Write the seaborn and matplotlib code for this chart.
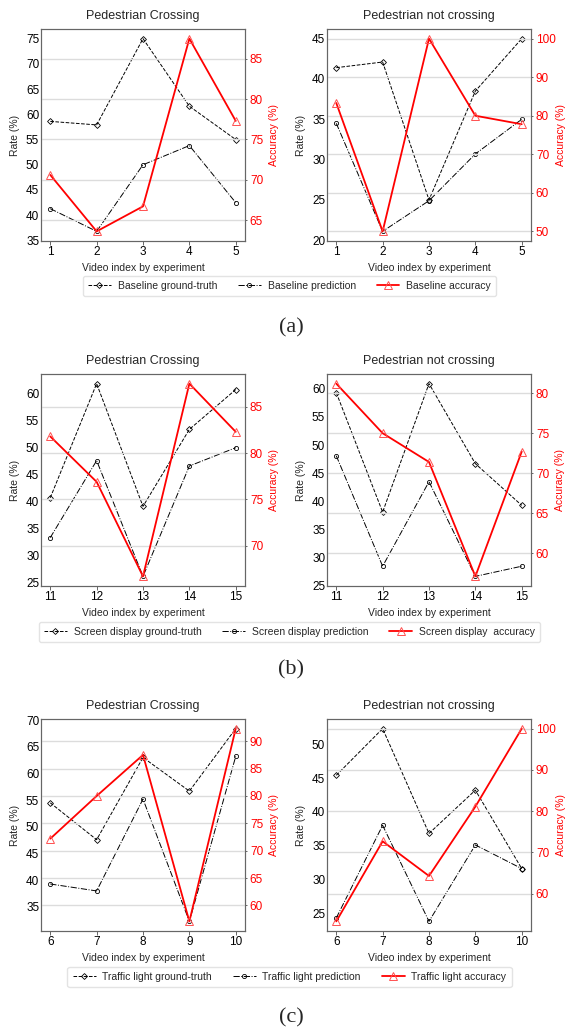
import matplotlib
matplotlib.use("Agg")
import matplotlib.pyplot as plt
from matplotlib.ticker import MultipleLocator
import seaborn as sns
import pandas as pd

# ---------------- data ----------------
a_x = [1, 2, 3, 4, 5]
a_cross_gt = [58.6, 57.9, 75.0, 61.6, 55.0]
a_cross_pred = [41.3, 36.8, 50.0, 53.8, 42.5]
a_cross_acc = [70.6, 63.6, 66.7, 87.5, 77.3]
a_notcross_gt = [41.4, 42.1, 25.0, 38.5, 45.0]
a_notcross_pred = [34.5, 21.1, 24.9, 30.7, 35.0]
a_notcross_acc = [83.3, 50.0, 100.0, 80.0, 77.8]

b_x = [11, 12, 13, 14, 15]
b_cross_gt = [40.7, 61.9, 39.1, 53.4, 60.8]
b_cross_pred = [33.3, 47.6, 26.1, 46.6, 50.0]
b_cross_acc = [81.8, 76.9, 66.7, 87.5, 82.3]
b_notcross_gt = [59.3, 38.1, 60.9, 46.7, 39.3]
b_notcross_pred = [48.1, 28.5, 43.5, 26.7, 28.5]
b_notcross_acc = [81.2, 75.0, 71.4, 57.1, 72.7]

c_x = [6, 7, 8, 9, 10]
c_cross_gt = [54.5, 47.6, 63.0, 56.7, 68.4]
c_cross_pred = [39.3, 38.0, 55.2, 32.3, 63.2]
c_cross_acc = [72.2, 80.0, 87.5, 57.1, 92.3]
c_notcross_gt = [45.4, 52.3, 36.8, 43.2, 31.6]
c_notcross_pred = [24.3, 38.0, 23.8, 35.1, 31.6]
c_notcross_acc = [53.3, 72.7, 64.3, 81.1, 100.0]

titles = ["Pedestrian Crossing", "Pedestrian not crossing"]
row_names = ["Baseline", "Screen display", "Traffic light"]
acc_suffix = [" accuracy", "  accuracy", " accuracy"]
panel_tags = ["(a)", "(b)", "(c)"]
xlabel = "Video index by experiment"

rows = [
    (a_x, [(a_cross_gt, a_cross_pred, a_cross_acc), (a_notcross_gt, a_notcross_pred, a_notcross_acc)]),
    (b_x, [(b_cross_gt, b_cross_pred, b_cross_acc), (b_notcross_gt, b_notcross_pred, b_notcross_acc)]),
    (c_x, [(c_cross_gt, c_cross_pred, c_cross_acc), (c_notcross_gt, c_notcross_pred, c_notcross_acc)]),
]
acc_steps = [(5, 10), (5, 5), (5, 10)]
acc_labelpads = [(4, 0.3), (4, 4), (4, 0.3)]

# ---------------- style ----------------
sns.set_theme(style="ticks")
plt.rcParams["font.family"] = ["Liberation Sans", "DejaVu Sans"]
plt.rcParams.update({
    "axes.edgecolor": "0.4",
    "axes.linewidth": 0.8,
    "xtick.color": "0.4",
    "ytick.color": "0.4",
    "xtick.labelcolor": "black",
    "ytick.labelcolor": "black",
    "xtick.major.size": 2.7,
    "xtick.major.pad": 1.2,
    "xtick.major.width": 0.7,
    "ytick.major.width": 0.7,
    "xtick.labelsize": 8.5,
    "ytick.labelsize": 8.5,
    "axes.labelsize": 7.5,
    "axes.titlesize": 9,
})

W, H = 565, 1032
fig = plt.figure(figsize=(W / 100, H / 100), dpi=100)

col_left = [41, 327]
ax_w = 204
row_tops = [29, 374, 719]
ax_h = 212
legend_y = [286, 632, 977]
tag_y = [328, 670, 1018]

for r, (xs, panels) in enumerate(rows):
    name = row_names[r]
    handles = None
    for c, (gt, pred, acc) in enumerate(panels):
        rect = [col_left[c] / W, 1 - (row_tops[r] + ax_h) / H, ax_w / W, ax_h / H]
        ax = fig.add_axes(rect)
        df = pd.DataFrame({"x": xs, "gt": gt, "pred": pred, "acc": acc})
        sns.lineplot(data=df, x="x", y="gt", ax=ax, color="black", linestyle="--",
                     linewidth=0.7, marker="D", markersize=3, markerfacecolor="none",
                     markeredgecolor="black", markeredgewidth=0.6, legend=False,
                     label=f"{name} ground-truth")
        sns.lineplot(data=df, x="x", y="pred", ax=ax, color="black", linestyle="-.",
                     linewidth=0.7, marker="o", markersize=3, markerfacecolor="none",
                     markeredgecolor="black", markeredgewidth=0.6, legend=False,
                     label=f"{name} prediction")
        ax2 = ax.twinx()
        sns.lineplot(data=df, x="x", y="acc", ax=ax2, color="red", linestyle="-",
                     linewidth=1.3, marker="^", markersize=5.5, markerfacecolor="none",
                     markeredgecolor="#ff5050", markeredgewidth=0.7, legend=False,
                     label=f"{name}{acc_suffix[r]}")
        ax.grid(False)
        ax2.grid(True, axis="y", color="#dcdcdc", linewidth=1.0)
        ax2.grid(False, axis="x")
        ax.set_xticks(xs)
        ax.yaxis.set_major_locator(MultipleLocator(5))
        ax2.yaxis.set_major_locator(MultipleLocator(acc_steps[r][c]))
        ax.tick_params(axis="y", length=0, pad=1.3)
        ax2.tick_params(axis="y", length=1.5, pad=2.0, labelcolor="red")
        ax.set_xlabel(xlabel, labelpad=3.5)
        ax.set_ylabel("Rate (%)", labelpad=4)
        ax2.set_ylabel("Accuracy (%)", color="red", labelpad=acc_labelpads[r][c])
        ax.set_title(titles[c], pad=7)
        for sp in ax2.spines.values():
            sp.set_color("0.4")
        if handles is None:
            handles = ax.get_lines() + ax2.get_lines()
    fig.legend(handles=handles, labels=[h.get_label() for h in handles],
               loc="center", bbox_to_anchor=(289.5 / W, 1 - legend_y[r] / H),
               ncol=3, fontsize=7.5, frameon=True, edgecolor="#dddddd",
               handlelength=2.2, handletextpad=0.65, columnspacing=2.0,
               borderpad=0.5, fancybox=True)
    fig.text(291 / W, 1 - tag_y[r] / H, panel_tags[r], ha="center", va="center",
             fontsize=16, family="Liberation Serif")

fig.savefig("out.png", dpi=100)
